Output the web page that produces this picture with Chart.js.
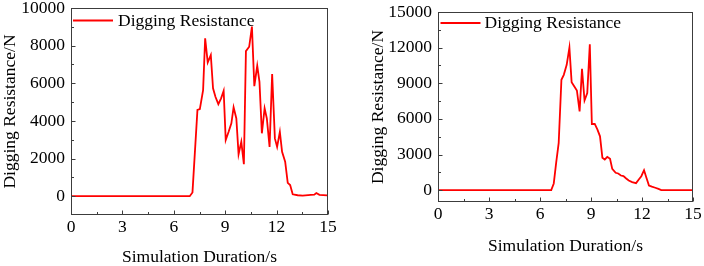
<!DOCTYPE html>
<html><head><meta charset="utf-8">
<script src="https://cdn.jsdelivr.net/npm/chart.js@4.4.0/dist/chart.umd.min.js"></script>
<style>
html,body{margin:0;padding:0;background:#fff;}
#wrap{position:relative;width:704px;height:266px;overflow:hidden;background:#fff;}
canvas{position:absolute;top:0;}
#c1{left:0}
#c2{left:352px}
</style></head><body>
<div id="wrap"><canvas id="c1" width="352" height="266"></canvas><canvas id="c2" width="352" height="266"></canvas></div>
<script>
// ---- data ----
const seriesLabel = 'Digging Resistance';
const xTitle = 'Simulation Duration/s';
const yTitle = 'Digging Resistance/N';

const timeLeft = [0, 6.93, 7.09, 7.38, 7.52, 7.71, 7.83, 7.98, 8.16, 8.29, 8.43, 8.6, 8.76, 8.91, 9.03, 9.2, 9.36, 9.49, 9.65, 9.78, 9.94, 10.09, 10.21, 10.4, 10.56, 10.7, 10.87, 11.0, 11.14, 11.3, 11.43, 11.59, 11.74, 11.9, 12.03, 12.19, 12.32, 12.5, 12.65, 12.79, 12.94, 13.23, 13.52, 14.0, 14.2, 14.32, 14.5, 14.95];
const resistanceLeft = [0, 0, 200, 4580, 4630, 5640, 8390, 7110, 7500, 5730, 5280, 4890, 5200, 5600, 2980, 3420, 3870, 4720, 4130, 2230, 2890, 1700, 7710, 7940, 9010, 5850, 6930, 6080, 3340, 4670, 4130, 2620, 6490, 3070, 2620, 3420, 2360, 1830, 710, 590, 100, 50, 30, 70, 80, 170, 70, 40];

const timeRight = [0, 6.66, 6.81, 6.95, 7.1, 7.26, 7.4, 7.57, 7.73, 7.86, 8.02, 8.17, 8.33, 8.47, 8.62, 8.78, 8.93, 9.05, 9.22, 9.38, 9.53, 9.67, 9.81, 9.96, 10.12, 10.25, 10.45, 10.6, 10.76, 10.91, 11.07, 11.22, 11.42, 11.65, 11.81, 11.96, 12.12, 12.26, 12.41, 12.58, 12.78, 12.97, 13.13, 15];
const resistanceRight = [0, 0, 560, 2300, 3980, 9290, 9710, 10550, 12000, 9090, 8730, 8390, 6630, 10210, 7550, 8170, 12280, 5570, 5570, 5090, 4530, 2720, 2580, 2800, 2630, 1790, 1460, 1400, 1230, 1180, 980, 810, 670, 590, 900, 1170, 1680, 1040, 390, 290, 200, 100, 0, 0];

const xTicks = [0, 3, 6, 9, 12, 15];
const xMinorTicks = [1.5, 4.5, 7.5, 10.5, 13.5];
const yTicksLeft = [0, 2000, 4000, 6000, 8000, 10000];
const yMinorLeft = [1000, 3000, 5000, 7000, 9000];
const yTicksRight = [0, 3000, 6000, 9000, 12000, 15000];
const yMinorRight = [1500, 4500, 7500, 10500, 13500];

// ---- rendering ----
const FONT = {family: '"Liberation Serif", "Times New Roman", serif', size: 17.5, lineHeight: 1};
const RED = '#ff0000';
const FRAME = '#3c3c3c';

const framePlugin = {
  id: 'frame',
  afterDatasetsDraw(chart, args, o) {
    const {ctx, chartArea: a, scales: {x, y}} = chart;
    const L = Math.round(a.left) + 0.5, R = Math.round(a.right) - 0.5;
    const T = Math.round(a.top) + 0.5, B = Math.round(a.bottom) - 0.5;
    ctx.save();
    ctx.strokeStyle = FRAME; ctx.lineWidth = 1;
    ctx.strokeRect(L, T, R - L, B - T);
    ctx.beginPath();
    o.xMajor.forEach(v => { const p = Math.round(x.getPixelForValue(v)) + 0.5; ctx.moveTo(p, B); ctx.lineTo(p, B - 4); });
    o.xMinor.forEach(v => { const p = Math.round(x.getPixelForValue(v)) + 0.5; ctx.moveTo(p, B); ctx.lineTo(p, B - 2.5); });
    o.yMajor.forEach(v => { const p = Math.round(y.getPixelForValue(v)) + 0.5; ctx.moveTo(L, p); ctx.lineTo(L + 4, p); });
    o.yMinor.forEach(v => { const p = Math.round(y.getPixelForValue(v)) + 0.5; ctx.moveTo(L, p); ctx.lineTo(L + 2.5, p); });
    ctx.stroke();
    // legend
    const ds = chart.data.datasets[0];
    const lx = a.left + o.legendDx, ly = a.top + o.legendDy;
    ctx.strokeStyle = ds.borderColor; ctx.lineWidth = 1.8;
    ctx.beginPath(); ctx.moveTo(lx, ly); ctx.lineTo(lx + 40, ly); ctx.stroke();
    ctx.fillStyle = '#000';
    ctx.font = FONT.size + 'px ' + FONT.family;
    ctx.textBaseline = 'middle'; ctx.textAlign = 'left';
    ctx.fillText(ds.label, lx + 40 + o.legendGap, ly + 0.5);
    ctx.restore();
  }
};

function makeChart(id, times, values, yMin, yMax, yMajor, yMinor, L) {
  const pts = times.map((t, i) => ({x: t, y: values[i]}));
  return new Chart(document.getElementById(id), {
    type: 'line',
    data: {datasets: [{label: seriesLabel, data: pts, borderColor: RED, borderWidth: 1.8,
      pointRadius: 0, tension: 0, fill: false}]},
    plugins: [framePlugin],
    options: {
      responsive: false, animation: false, devicePixelRatio: 1,
      layout: {padding: {left: 0, right: L.right, top: L.top, bottom: 0}},
      plugins: {legend: {display: false}, tooltip: {enabled: false},
        frame: {xMajor: xTicks, xMinor: xMinorTicks, yMajor: yMajor, yMinor: yMinor,
          legendDx: L.legDx, legendDy: L.legDy, legendGap: L.legGap}},
      scales: {
        x: {type: 'linear', min: 0, max: 15,
          afterBuildTicks: s => { s.ticks = xTicks.map(v => ({value: v})); },
          afterFit: s => { s.height = L.xH; s.paddingLeft = 0; s.paddingRight = 0; },
          grid: {display: false, drawTicks: false}, border: {display: false},
          ticks: {font: FONT, color: '#000', padding: L.xPad, maxRotation: 0, autoSkip: false,
            callback: v => String(v)},
          title: {display: true, text: xTitle, font: FONT, color: '#000', padding: {top: 0, bottom: L.xTitlePad}}},
        y: {type: 'linear', min: yMin, max: yMax,
          afterBuildTicks: s => { s.ticks = yMajor.map(v => ({value: v})); },
          afterFit: s => { s.width = L.yW; s.paddingTop = 0; s.paddingBottom = 0; },
          grid: {display: false, drawTicks: false}, border: {display: false},
          ticks: {font: FONT, color: '#000', padding: 6, autoSkip: false,
            callback: v => String(v)},
          title: {display: true, text: yTitle, font: FONT, color: '#000', padding: {top: L.yTitlePad, bottom: 0}}}
      }
    }
  });
}

makeChart('c1', timeLeft, resistanceLeft, -1000, 10000, yTicksLeft, yMinorLeft,
  {right: 24, top: 8, xH: 51, yW: 71, xPad: 4, xTitlePad: 0, yTitlePad: 1.25, legDx: 2, legDy: 12.5, legGap: 5});
makeChart('c2', timeRight, resistanceRight, -1000, 15000, yTicksRight, yMinorRight,
  {right: 11, top: 12, xH: 64, yW: 86, xPad: 4, xTitlePad: 11.25, yTitlePad: 17.25, legDx: 2.5, legDy: 11, legGap: 4});
</script>
</body></html>
